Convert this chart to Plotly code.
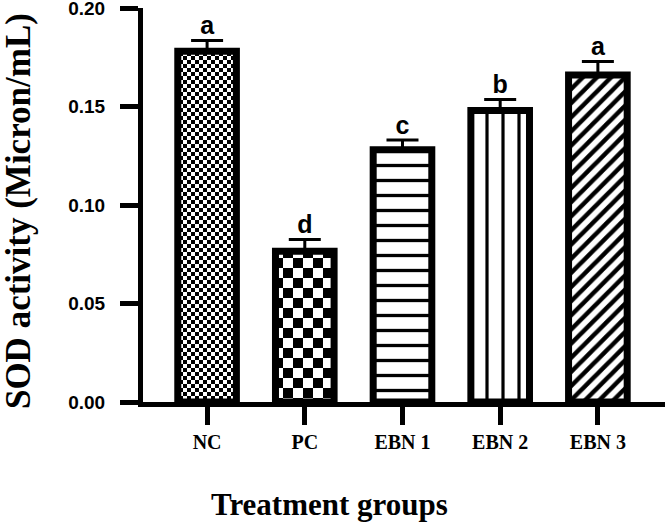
import plotly.graph_objects as go

groups = ["NC", "PC", "EBN 1", "EBN 2", "EBN 3"]
means = [0.178, 0.0765, 0.128, 0.148, 0.166]
sds = [0.0055, 0.006, 0.005, 0.0055, 0.0068]
letters = ["a", "d", "c", "b", "a"]
y_ticks = [0.00, 0.05, 0.10, 0.15, 0.20]


def checker(s):
    return dict(path=f"M0,0H{s}V{s}H0Z M{s},{s}H{2*s}V{2*s}H{s}Z", size=2 * s,
                fgcolor="black", bgcolor="white", fgopacity=1)


patterns = [
    checker(4),
    checker(10),
    dict(shape="-", size=15, solidity=0.22, fgcolor="black", bgcolor="white", fgopacity=1),
    dict(shape="|", size=16, solidity=0.2, fgcolor="black", bgcolor="white", fgopacity=1),
    dict(shape="/", size=10, solidity=0.45, fgcolor="black", bgcolor="white", fgopacity=1),
]

fig = go.Figure()
for g, m, s, p in zip(groups, means, sds, patterns):
    fig.add_trace(go.Bar(
        x=[g], y=[m], width=0.6,
        marker=dict(color="white", opacity=1, line=dict(color="black", width=7), pattern=p),
        error_y=dict(type="data", array=[s], arrayminus=[0], symmetric=False,
                     color="black", thickness=3, width=16),
        showlegend=False,
    ))

fig.add_trace(go.Scatter(
    x=groups, y=[m + s for m, s in zip(means, sds)], mode="text",
    text=letters, textposition="top center",
    textfont=dict(family="Liberation Sans", size=25, color="black", weight="bold"),
    showlegend=False, hoverinfo="skip",
))

fig.update_layout(
    width=669, height=523,
    margin=dict(l=143, r=4, t=8, b=121, autoexpand=False),
    plot_bgcolor="white", paper_bgcolor="white",
    barmode="overlay",
    xaxis=dict(
        range=[-0.656, 4.687], showline=True, linecolor="black", linewidth=5,
        ticks="outside", ticklen=18, tickwidth=5, tickcolor="black",
        tickfont=dict(family="Liberation Serif", size=20, color="black", weight="bold"),
        showgrid=False, zeroline=False, ticklabelstandoff=0, automargin=False,
        ticklabeloverflow="allow",
    ),
    yaxis=dict(
        range=[0, 0.2], showline=True, linecolor="black", linewidth=5,
        ticks="outside", ticklen=18, tickwidth=5, tickcolor="black",
        tickvals=y_ticks, ticktext=[f"{v:.2f}" for v in y_ticks],
        tickfont=dict(family="Liberation Sans", size=19, color="black", weight="bold"),
        showgrid=False, zeroline=False, ticklabelstandoff=11, automargin=False,
        ticklabeloverflow="allow",
    ),
    annotations=[
        dict(text="Treatment groups", xref="paper", yref="paper", x=0.358, y=-0.261,
             xanchor="center", yanchor="middle", showarrow=False,
             font=dict(family="Liberation Serif", size=31, color="black", weight="bold")),
        dict(text="SOD activity (Micron/mL)", xref="paper", yref="paper", x=-0.238, y=0.484,
             xanchor="center", yanchor="middle", showarrow=False, textangle=-90,
             font=dict(family="Liberation Serif", size=35, color="black", weight="bold")),
    ],
)

fig.write_html("out.html", config={"displayModeBar": False},
               post_script="document.body.style.margin='0';")
